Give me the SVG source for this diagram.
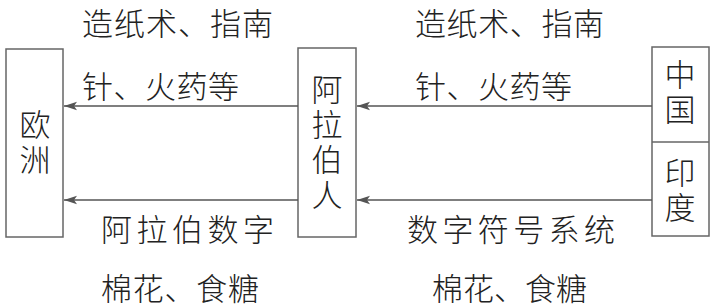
<svg xmlns="http://www.w3.org/2000/svg" width="721" height="308" viewBox="0 0 721 308">
<style>
.box{fill:#fff;stroke:#666;stroke-width:1.5}
.t{font-family:"Noto Sans CJK SC","Noto Sans CJK JP",sans-serif;font-size:31px;fill:#222;font-weight:300}
.v{writing-mode:vertical-rl;letter-spacing:4px}
.ln{stroke:#555;stroke-width:1.5;fill:none;marker-end:url(#ah)}
</style>
<defs>
<marker id="ah" markerWidth="14" markerHeight="10" refX="13" refY="5" orient="auto" markerUnits="userSpaceOnUse">
<path d="M13,5 L0,0.8 L3,5 L0,9.2 Z" fill="#555"/>
</marker>
</defs>
<rect width="721" height="308" fill="#fff"/>
<g id="europe">
<rect class="box" x="6" y="49" width="57" height="188"/>
<text class="t v" x="35" y="109">欧洲</text>
</g>
<g id="arabs">
<rect class="box" x="298" y="48" width="58" height="189"/>
<text class="t v" x="327" y="74">阿拉伯人</text>
</g>
<g id="china-india">
<rect class="box" x="652" y="47" width="57" height="189"/>
<line x1="652" y1="142" x2="709" y2="142" stroke="#666" stroke-width="1.5"/>
<text class="t v" x="680" y="59">中国</text>
<text class="t v" x="680" y="157">印度</text>
</g>
<g id="connectors">
<line class="ln" x1="652" y1="106" x2="357" y2="106"/>
<line class="ln" x1="298" y1="106" x2="64" y2="106"/>
<line class="ln" x1="652" y1="200" x2="357" y2="200"/>
<line class="ln" x1="298" y1="200" x2="64" y2="200"/>
</g>
<g id="labels">
<text class="t" x="82" y="35" textLength="191" lengthAdjust="spacing">造纸术、指南</text>
<text class="t" x="82" y="98" textLength="157" lengthAdjust="spacing">针、火药等</text>
<text class="t" x="415" y="35" textLength="189" lengthAdjust="spacing">造纸术、指南</text>
<text class="t" x="415" y="98" textLength="157" lengthAdjust="spacing">针、火药等</text>
<text class="t" x="101" y="241" textLength="173" lengthAdjust="spacing">阿拉伯数字</text>
<text class="t" x="101" y="300" textLength="158" lengthAdjust="spacing">棉花、食糖</text>
<text class="t" x="407" y="241" textLength="208" lengthAdjust="spacing">数字符号系统</text>
<text class="t" x="432" y="300" textLength="155" lengthAdjust="spacing">棉花、食糖</text>
</g>
</svg>
